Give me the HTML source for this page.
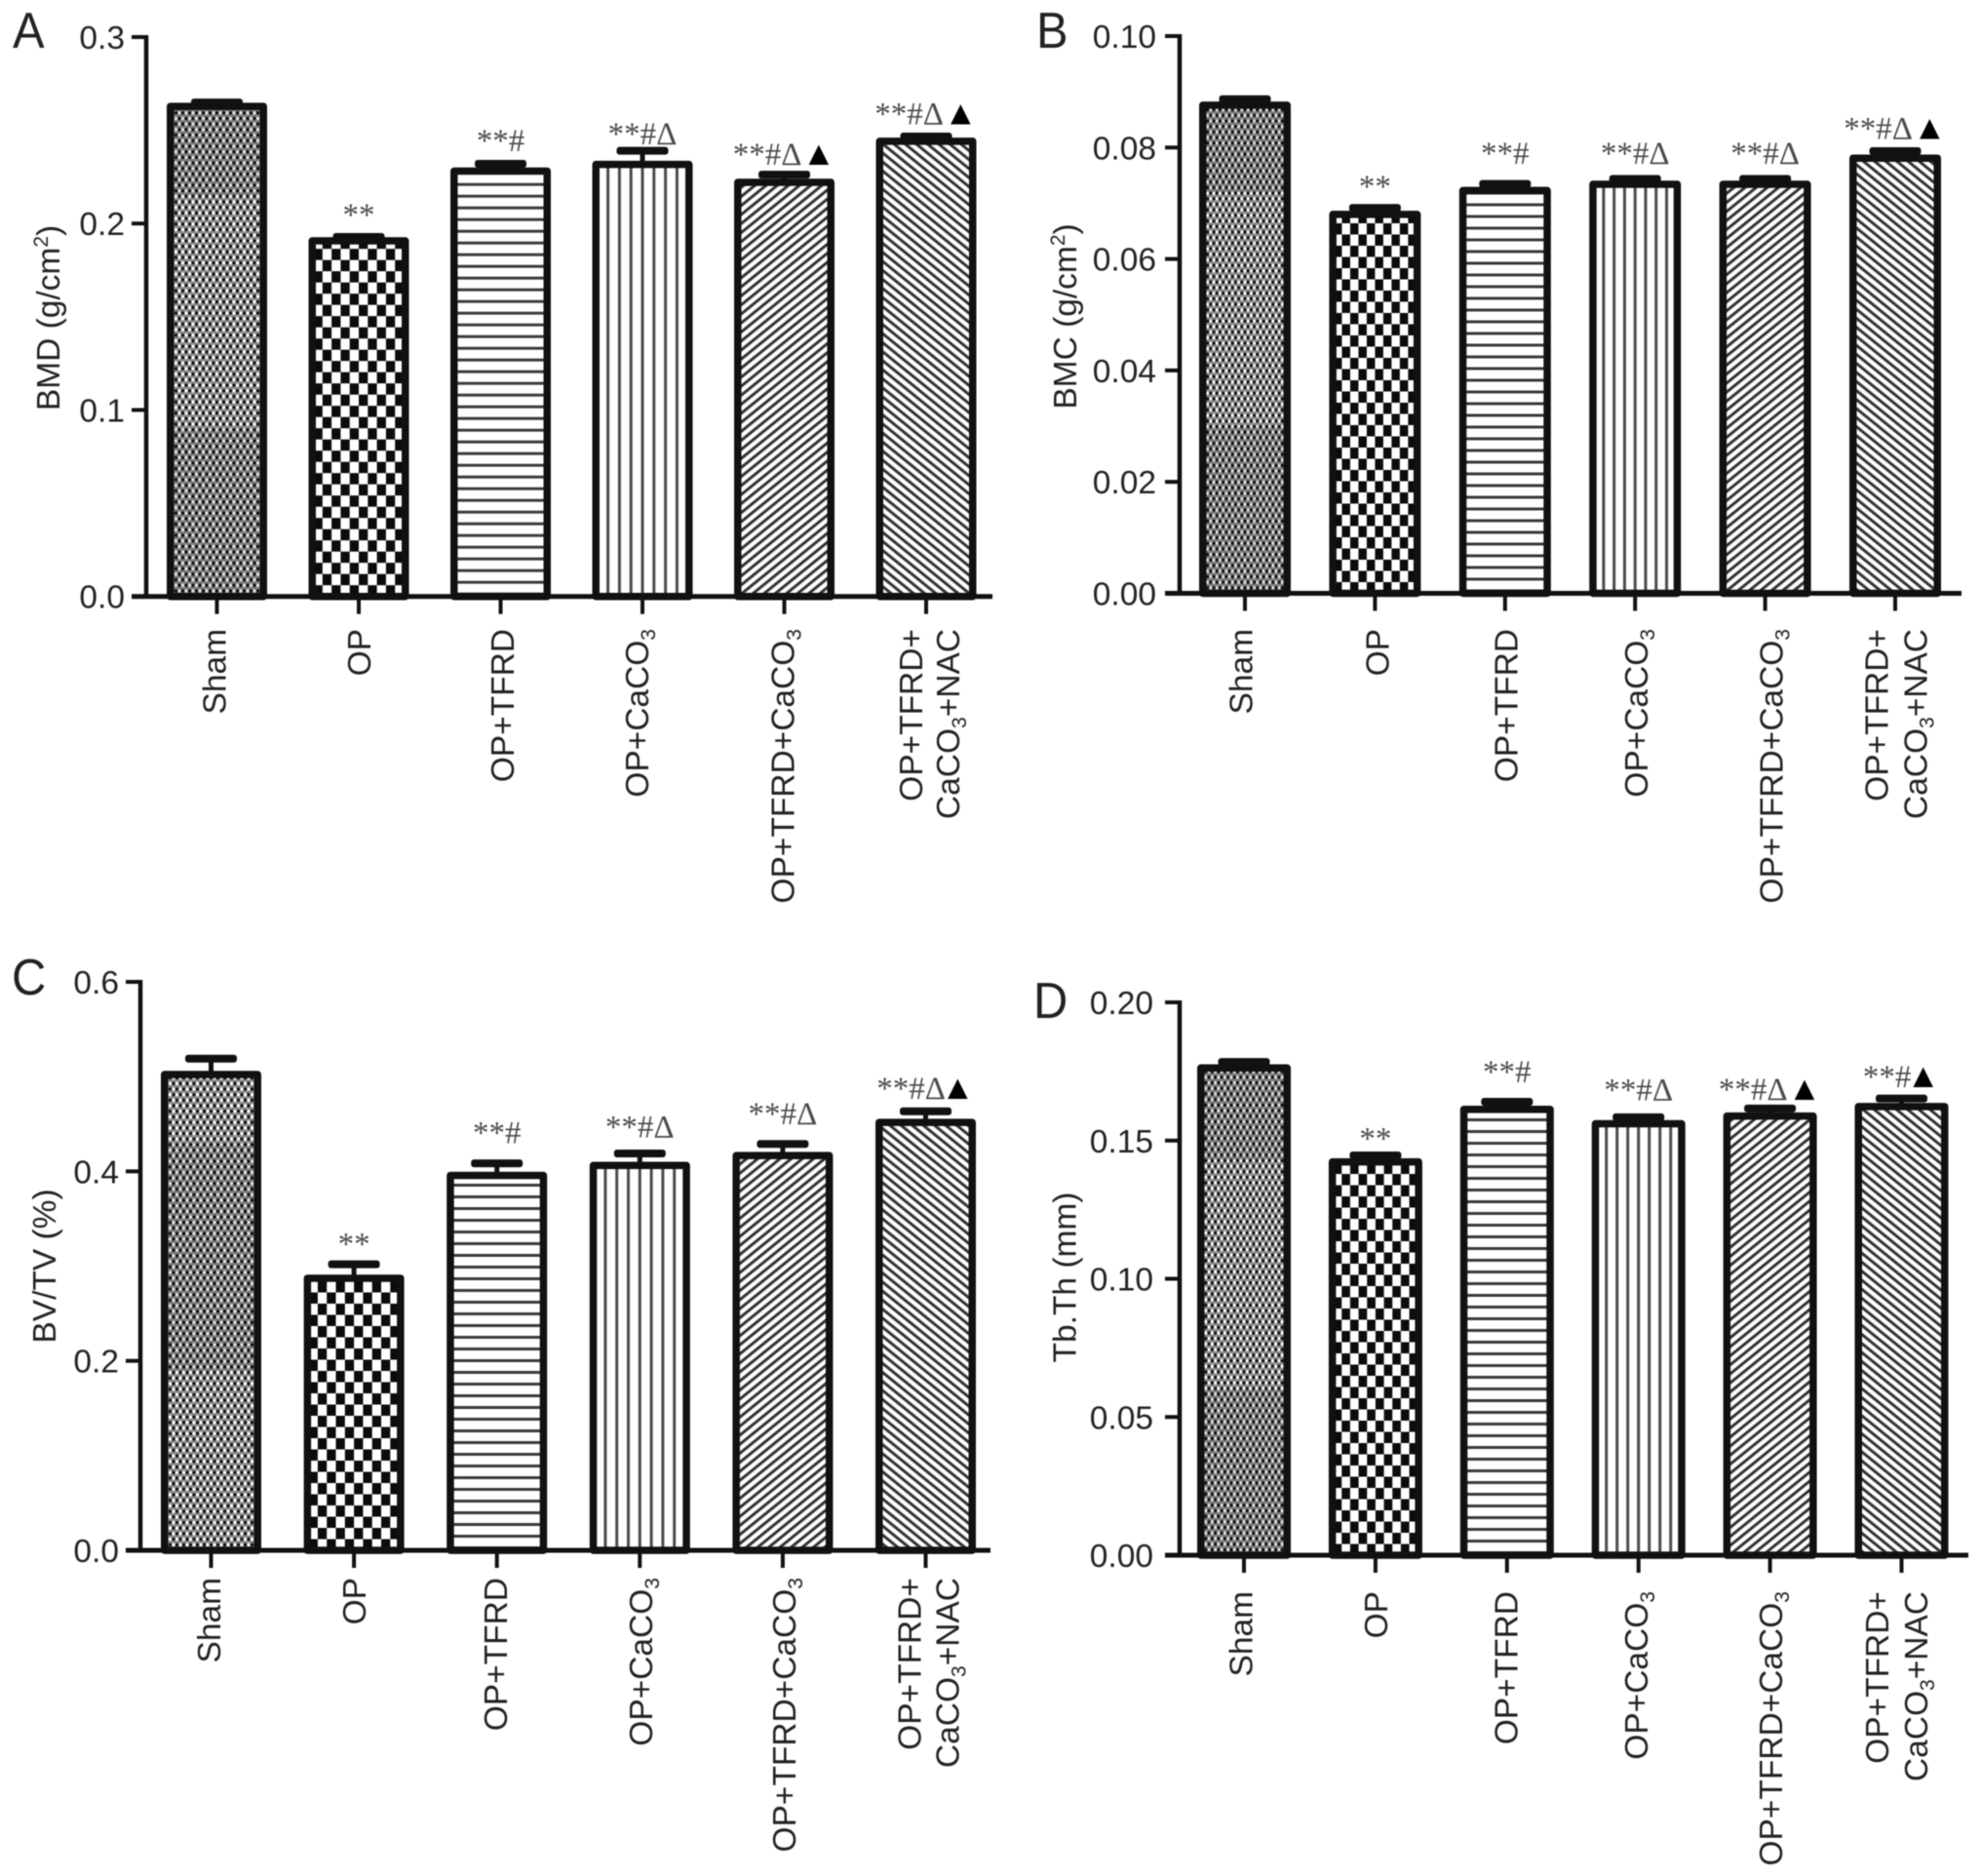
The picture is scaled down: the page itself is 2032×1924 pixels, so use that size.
<!DOCTYPE html>
<html lang="en">
<head>
<meta charset="utf-8">
<title>Bone measures by treatment group</title>
<style>
html,body{margin:0;padding:0;background:#fff;width:2032px;height:1924px;overflow:hidden}
svg{display:block;filter:blur(.55px)}
text{font-family:"Liberation Sans",Arial,sans-serif;fill:#222}
.note{font-family:"Liberation Serif","DejaVu Serif",serif;fill:#4a4a4a}
</style>
</head>
<body>
<svg id="figure" xmlns="http://www.w3.org/2000/svg" width="2032" height="1924" viewBox="0 0 2032 1924"></svg>
<script>
const categories = [["Sham"],["OP"],["OP+TFRD"],["OP+CaCO3"],["OP+TFRD+CaCO3"],["OP+TFRD+","CaCO3+NAC"]];

const ticksA = ["0.0","0.1","0.2","0.3"];
const valuesA = [0.2637,0.1916,0.229,0.2326,0.223,0.245];
const errorsA = [0.0025,0.0025,0.0043,0.0077,0.0045,0.003];
const notesA = ["","**","**#","**#Δ","**#Δ ▲","**#Δ ▲"];
const noteLevelsA = [0,0.199,0.2387,0.2425,0.2316,0.2531];

const ticksB = ["0.00","0.02","0.04","0.06","0.08","0.10"];
const valuesB = [0.0879,0.0683,0.0726,0.0737,0.0737,0.0784];
const errorsB = [0.0012,0.0013,0.0013,0.0011,0.0011,0.0014];
const notesB = ["","**","**#","**#Δ","**#Δ","**#Δ ▲"];
const noteLevelsB = [0,0.0711,0.0771,0.0771,0.0771,0.0815];

const ticksC = ["0.0","0.2","0.4","0.6"];
const valuesC = [0.504,0.289,0.3975,0.408,0.4185,0.4535];
const errorsC = [0.0175,0.0155,0.0135,0.0135,0.013,0.0125];
const notesC = ["","**","**#","**#Δ","**#Δ","**#Δ▲"];
const noteLevelsC = [0,0.3124,0.4298,0.4361,0.45,0.4765];

const ticksD = ["0.00","0.05","0.10","0.15","0.20"];
const valuesD = [0.1769,0.1429,0.1619,0.1567,0.1595,0.1629];
const errorsD = [0.0024,0.0026,0.003,0.0026,0.003,0.0032];
const notesD = ["","**","**#","**#Δ","**#Δ ▲","**#▲"];
const noteLevelsD = [0,0.1469,0.171,0.1646,0.1648,0.1693];

const NS = "http://www.w3.org/2000/svg";
const svg = document.getElementById("figure");
const defs = document.createElementNS(NS, "defs");
svg.appendChild(defs);

function make(tag, attrs, parent) {
  const node = document.createElementNS(NS, tag);
  for (const k in attrs) node.setAttribute(k, attrs[k]);
  (parent || svg).appendChild(node);
  return node;
}

function fillRich(node, str, size) {
  const small = Math.round(size * 0.64);
  const drop = Math.round(size * 0.22);
  const parts = str.split(/(CaCO3|cm2)/);
  parts.forEach(function (p) {
    if (p === "CaCO3" || p === "cm2") {
      const t1 = make("tspan", {}, node);
      t1.textContent = p.slice(0, -1);
      const t2 = make("tspan", {"font-size": small, dy: p === "cm2" ? -drop * 1.7 : drop}, node);
      t2.textContent = p.slice(-1);
      const t3 = make("tspan", {dy: p === "cm2" ? drop * 1.7 : -drop}, node);
      t3.textContent = "\u200b";
    } else if (p) {
      const t = make("tspan", {}, node);
      t.textContent = p;
    }
  });
}

function makePattern(id, kind, layout, center) {
  const sx = layout.barW / 103;
  const baseY = layout.y0;
  if (kind === 0) {
    const p = make("pattern", {id: id, patternUnits: "userSpaceOnUse", width: 7 * sx, height: 11.4, patternTransform: "translate(" + center + "," + baseY + ")"}, defs);
    make("rect", {width: 7 * sx, height: 11.4, fill: "#8c8c8c"}, p);
    [[0, 0, "#fff"], [3.5, 5.7, "#fff"], [3.5, 0, "#111"], [0, 5.7, "#111"], [7, 0, "#fff"], [0, 11.4, "#fff"], [7, 11.4, "#fff"], [3.5, 11.4, "#111"], [7, 5.7, "#111"]].forEach(function (d) {
      make("circle", {cx: d[0] * sx, cy: d[1], r: 1.75, fill: d[2]}, p);
    });
  } else if (kind === 1) {
    const w = 9.3 * sx, h = 11.5;
    const p = make("pattern", {id: id, patternUnits: "userSpaceOnUse", width: 2 * w, height: 2 * h, patternTransform: "translate(" + center + "," + baseY + ")"}, defs);
    make("rect", {width: 2 * w, height: 2 * h, fill: "#fff"}, p);
    make("rect", {x: 0, y: 0, width: w, height: h, fill: "#0c0c0c"}, p);
    make("rect", {x: w, y: h, width: w, height: h, fill: "#0c0c0c"}, p);
  } else if (kind === 2) {
    const p = make("pattern", {id: id, patternUnits: "userSpaceOnUse", width: 12, height: 12, patternTransform: "translate(0," + (baseY - 4) + ")"}, defs);
    make("rect", {width: 12, height: 12, fill: "#fff"}, p);
    make("rect", {y: 0, width: 12, height: 3, fill: "#3a3a3a"}, p);
  } else if (kind === 3) {
    const g = 11.8 * sx;
    const p = make("pattern", {id: id, patternUnits: "userSpaceOnUse", width: g, height: 12, patternTransform: "translate(" + (center - 1.5) + ",0)"}, defs);
    make("rect", {width: g, height: 12, fill: "#fff"}, p);
    make("rect", {x: 0, width: 3, height: 12, fill: "#4a4a4a"}, p);
  } else {
    const angle = kind === 4 ? 51 : -51;
    const p = make("pattern", {id: id, patternUnits: "userSpaceOnUse", width: 7.2, height: 7.2, patternTransform: "rotate(" + angle + ")"}, defs);
    make("rect", {width: 7.2, height: 7.2, fill: "#fff"}, p);
    make("rect", {x: 0, width: 3, height: 7.2, fill: "#333"}, p);
  }
}

function drawPanel(layout, letter, title, ticks, values, errors, notes, noteLevels, moire) {
  const group = make("g", {});
  
  

  const maxTick = parseFloat(ticks[ticks.length - 1]);
  const yScale = function (v) { return layout.y0 - (v / maxTick) * (layout.y0 - layout.y1); };
  const xScale = function (i) { return layout.x0 + layout.step * i; };
  const strokeW = 7.5;

  const tag = make("text", {transform: "translate(" + layout.letterX + "," + layout.letterY + ") scale(.94,1)", "font-size": 52}, group);
  tag.textContent = letter;
  
  

  const yTitle = make("text", {transform: "translate(" + layout.titleX + "," + layout.titleY + ") rotate(-90)", "font-size": 33.5, "text-anchor": "middle"}, group);
  fillRich(yTitle, title, 33.5);
  
  

  values.forEach(function (v, i) {
    const cx = xScale(i);
    const top = yScale(v) - 2;
    const left = cx - layout.barW / 2;
    const patId = "fill-" + letter + "-" + i;
    makePattern(patId, i, layout, cx);

    const capY = yScale(v + errors[i]) - 1.5;
    const errLine = make("line", {x1: cx, x2: cx, y1: top + 2, y2: capY + 2, stroke: "#111", "stroke-width": 5}, group);
    
    

    const cap = make("rect", {x: cx - 26.5, y: capY, width: 53, height: 8, rx: 3, fill: "#111"}, group);
    
    

    const bar = make("rect", {x: left + strokeW / 2, y: top + strokeW / 2, width: layout.barW - strokeW, height: layout.y0 - top - strokeW / 2, fill: "url(#" + patId + ")", stroke: "#111", "stroke-width": strokeW, "stroke-linejoin": "round"}, group);
    
    

    if (i === 0) {
      moire.forEach(function (band) {
        const ya = Math.max(yScale(band[1]), top + strokeW);
        const shade = make("rect", {x: left + strokeW, y: ya, width: layout.barW - 2 * strokeW, height: Math.max(0, yScale(band[0]) - ya), fill: "#000", opacity: 0.11}, group);
        
        
      });
    }

    if (notes[i]) {
      const note = make("text", {x: cx, y: yScale(noteLevels[i]), "font-size": 33, "text-anchor": "middle", "class": "note"}, group);
      const spaced = notes[i].indexOf(" ") >= 0;
      notes[i].replace(" ", "").split(/(▲)/).forEach(function (piece) {
        if (!piece) return;
        const t = make("tspan", piece === "▲" ? {"font-size": 35, style: "fill:#000", dx: spaced ? 0 : -5} : {}, note);
        t.textContent = piece;
      });
      
      
    }

    const tickX = make("line", {x1: cx, x2: cx, y1: layout.y0, y2: layout.y0 + 18, stroke: "#111", "stroke-width": 4}, group);
    
    

    categories[i].forEach(function (lineText, k) {
      const offset = layout.labelShift[i + k];
      const lab = make("text", {transform: "translate(" + (cx + offset) + "," + layout.labelTop + ") rotate(-90)", "font-size": 33.5, "text-anchor": "end"}, group);
      fillRich(lab, lineText, 33.5);
      
      
    });
  });

  ticks.forEach(function (label) {
    const y = yScale(parseFloat(label));
    const t = make("line", {x1: layout.axisX - 15, x2: layout.axisX, y1: y, y2: y, stroke: "#111", "stroke-width": 4}, group);
    
    
    const txt = make("text", {x: layout.numX, y: y + 12, "font-size": 33.5, "text-anchor": "end"}, group);
    txt.textContent = label;
    
    
  });

  const yAxis = make("line", {x1: layout.axisX, x2: layout.axisX, y1: layout.y1 - 2, y2: layout.y0 + 2, stroke: "#111", "stroke-width": 4.5}, group);
  
  

  const xAxis = make("line", {x1: layout.axisX - 15, x2: layout.xEnd, y1: layout.y0, y2: layout.y0, stroke: "#111", "stroke-width": 5}, group);
  
  
}

drawPanel({axisX:150,y0:611.7,y1:38,x0:222.5,step:145.5,barW:103,xEnd:1018,numX:128,letterX:13,letterY:49,titleX:61,titleY:326,labelTop:645,labelShift:[9,12,13.5,6,10,-4,34]},
  "A","BMD (g/cm2)",ticksA,valuesA,errorsA,notesA,noteLevelsA,[[0,0.09],[0.215,0.27]]);

drawPanel({axisX:1210,y0:608.5,y1:37,x0:1277,step:133.4,barW:94,xEnd:2012,numX:1186,letterX:1063,letterY:49,titleX:1104,titleY:324.5,labelTop:645,labelShift:[7.5,14,12.6,13,18,-7.5,32.5]},
  "B","BMC (g/cm2)",ticksB,valuesB,errorsB,notesB,noteLevelsB,[[0,0.03],[0.072,0.09]]);

drawPanel({axisX:144,y0:1590,y1:1007,x0:216.5,step:146.6,barW:103,xEnd:1016,numX:122,letterX:12,letterY:1020,titleX:57,titleY:1298.5,labelTop:1618,labelShift:[9.5,12,10.5,12.5,13,-5,34]},
  "C","BV/TV (%)",ticksC,valuesC,errorsC,notesC,noteLevelsC,[[0.19,0.43]]);

drawPanel({axisX:1210,y0:1595,y1:1028,x0:1276,step:134.9,barW:96,xEnd:2019,numX:1183,letterX:1060,letterY:1044,titleX:1103.5,titleY:1310,labelTop:1632,labelShift:[8.5,12,10.5,9.5,12.5,-13.5,26.5]},
  "D","Tb.Th (mm)",ticksD,valuesD,errorsD,notesD,noteLevelsD,[[0,0.06],[0.143,0.18]]);
</script>
</body>
</html>
